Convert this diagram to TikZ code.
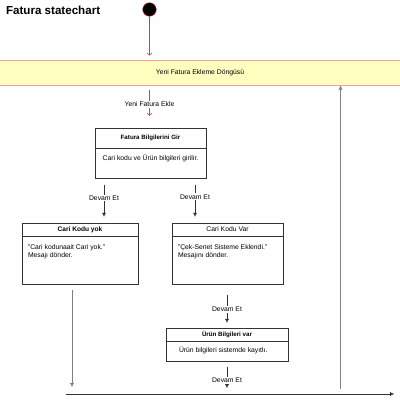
\documentclass[tikz,border=0pt]{standalone}
\usepackage{fontspec}
\setmainfont{Liberation Sans}
\usepackage{xcolor}
\usepackage{tikz}
\usetikzlibrary{arrows.meta,positioning,calc}
\definecolor{loopfill}{HTML}{FFFFC0}
\definecolor{loopline}{HTML}{F5A09C}
\definecolor{initred}{HTML}{E8333A}
\definecolor{boxline}{HTML}{333333}
\definecolor{longline}{HTML}{808080}
\tikzset{
  txt/.style={font=\fontsize{6.8}{8}\selectfont},
  headbox/.style={rectangle, draw=boxline, fill=white, align=center, inner sep=0pt, font=\bfseries\fontsize{6.2}{7}\selectfont},
  bodybox/.style={rectangle, draw=boxline, fill=white, inner sep=0pt},
  bodytext/.style={txt, align=left, inner sep=0pt},
  loopbar/.style={rectangle, draw=loopline, line width=1pt, fill=loopfill, minimum width=406pt, minimum height=25pt, txt},
  initstate/.style={circle, fill=black, draw=initred, minimum size=13.6pt, inner sep=0pt},
  lbl/.style={txt, fill=white, inner sep=1pt},
  flow/.style={draw=boxline, -{Latex[length=4pt,width=4pt]}},
  longflow/.style={draw=longline, -{Latex[length=4pt,width=4pt]}},
  redflow/.style={draw=initred, -{Straight Barb[length=2.5pt,width=5pt]}},
}
\begin{document}
\begin{tikzpicture}[x=1pt,y=-1pt]
  \useasboundingbox[fill=white] (0,0) rectangle (400,400);
  \node[anchor=west, font=\bfseries\fontsize{11.6}{13}\selectfont] (title) at (2.5,10) {Fatura statechart};
  \node[initstate] (init) at (149.5,9.5) {};
  \node[loopbar] (loop) at (200,72.5) {Yeni Fatura Ekleme Döngüsü};

  \node[headbox, minimum width=111pt, minimum height=20pt] (h1) at (150.5,138) {Fatura Bilgilerini Gir};
  \node[bodybox, minimum width=111pt, minimum height=30pt, below=0pt of h1] (b1) {};
  \node[bodytext, below=6pt of b1.north] (t1) {Cari kodu ve Ürün bilgileri girilir.};

  \node[headbox, minimum width=116pt, minimum height=13pt, font=\bfseries\fontsize{6.6}{7}\selectfont] (h2) at (80,229.5) {Cari Kodu yok};
  \node[bodybox, minimum width=116pt, minimum height=48pt, below=0pt of h2] (b2) {};
  \node[bodytext, anchor=north west, below right=8.5pt and 6pt of b2.north west] (t2) {"Cari kodunaait Cari yok."\\Mesajı dönder.};

  \node[headbox, minimum width=111pt, minimum height=13pt, font=\fontsize{6.8}{8}\selectfont] (h3) at (227.5,229.5) {Cari Kodu Var};
  \node[bodybox, minimum width=111pt, minimum height=48pt, below=0pt of h3] (b3) {};
  \node[bodytext, anchor=north west, below right=8.5pt and 6pt of b3.north west] (t3) {"Çek-Senet Sisteme Eklendi."\\Mesajını dönder.};

  \node[headbox, minimum width=122pt, minimum height=13pt] (h4) at (227,334.5) {Ürün Bilgileri var};
  \node[bodybox, minimum width=122pt, minimum height=20pt, below=0pt of h4] (b4) {};
  \node[bodytext, anchor=north west, below right=5.5pt and 13pt of b4.north west] (t4) {Ürün bilgileri sistemde kayıtlı.};

  \coordinate (barL) at (66,394);
  \coordinate (barR) at (394,394);
  \coordinate (xl) at (104,394);
  \coordinate (xr) at (195,394);
  \coordinate (xll) at (72,394);
  \coordinate (xm) at (227,394);
  \coordinate (xup) at (340.5,394);

  \draw[redflow, shorten >=4pt] (init) -- (init |- loop.north);
  \draw[redflow, shorten <=4pt, shorten >=12pt] (loop.south -| init) -- node[lbl, pos=0.45] {Yeni Fatura Ekle} (h1.north -| init);
  \draw[flow, shorten <=6pt, shorten >=6pt] (xl |- b1.south) -- node[lbl, pos=0.44] {Devam Et} (xl |- h2.north);
  \draw[flow, shorten <=6pt, shorten >=6pt] (xr |- b1.south) -- node[lbl, pos=0.41] {Devam Et} (xr |- h3.north);
  \draw[flow, shorten <=10pt, shorten >=5pt] (xm |- b3.south) -- node[lbl, pos=0.575] {Devam Et} (xm |- h4.north);
  \draw[flow, shorten <=5pt, shorten >=6pt] (xm |- b4.south) -- node[lbl, pos=0.58] {Devam Et} (xm);
  \draw[longflow, shorten <=5pt, shorten >=7pt] (xll |- b2.south) -- (xll);
  \draw[flow] (barL) -- (barR);
  \draw[longflow, shorten <=5pt] (xup) -- (xup |- loop.south);
\end{tikzpicture}
\end{document}
